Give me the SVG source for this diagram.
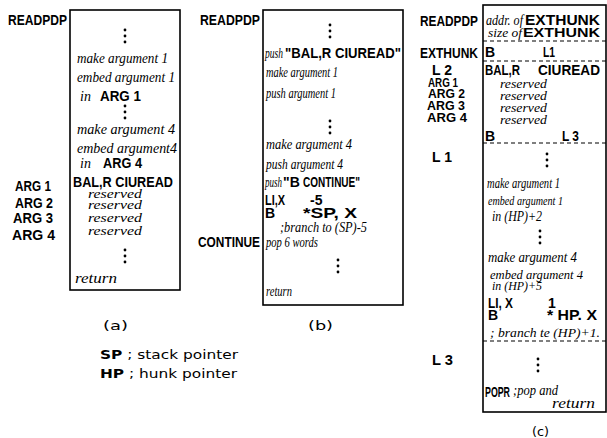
<svg xmlns="http://www.w3.org/2000/svg" width="607" height="438" viewBox="0 0 607 438">
<style>
.bx{fill:#fff;stroke:#000;stroke-width:1.6}
.ds{stroke:#000;stroke-width:1.2;stroke-dasharray:4 3;fill:none}
.b{font-family:"Liberation Sans",Arial,sans-serif;font-weight:bold;font-size:14px;fill:#000}
.bs{font-family:"Liberation Sans",Arial,sans-serif;font-weight:bold;font-size:13px;fill:#000}
.h{font-family:"Liberation Serif","Times New Roman",serif;font-style:italic;font-size:14px;fill:#000}
.hs{font-family:"Liberation Serif","Times New Roman",serif;font-style:italic;font-size:12px;fill:#000}
.n{font-family:"DejaVu Sans",sans-serif;font-size:13px;fill:#000}
</style>
<defs>
<g id="dots"><circle cx="0" cy="0" r="1.4"/><circle cx="0" cy="6" r="1.4"/><circle cx="0" cy="12" r="1.4"/></g>
</defs>

<g id="node-a">
<rect class="bx" x="70" y="10" width="110" height="280"/>
<text class="b" x="8" y="25" textLength="59" lengthAdjust="spacingAndGlyphs">READPDP</text>
<use href="#dots" x="125" y="30"/>
<text class="h" x="77" y="63" textLength="91" lengthAdjust="spacingAndGlyphs">make argument 1</text>
<text class="h" x="77" y="82" textLength="98" lengthAdjust="spacingAndGlyphs">embed argument 1</text>
<text class="h" x="80" y="101">in</text>
<text class="b" x="100" y="101" textLength="41" lengthAdjust="spacingAndGlyphs">ARG 1</text>
<use href="#dots" x="125" y="106"/>
<text class="h" x="77" y="134" textLength="98" lengthAdjust="spacingAndGlyphs">make argument 4</text>
<text class="h" x="77" y="153" textLength="100" lengthAdjust="spacingAndGlyphs">embed argument4</text>
<text class="h" x="80" y="168">in</text>
<text class="b" x="103" y="168" textLength="39" lengthAdjust="spacingAndGlyphs">ARG 4</text>
<text class="b" x="73" y="187" textLength="100" lengthAdjust="spacingAndGlyphs">BAL,R  CIUREAD</text>
<text class="hs" x="88" y="198" textLength="54" lengthAdjust="spacingAndGlyphs">reserved</text>
<text class="hs" x="88" y="209" textLength="54" lengthAdjust="spacingAndGlyphs">reserved</text>
<text class="hs" x="88" y="222" textLength="54" lengthAdjust="spacingAndGlyphs">reserved</text>
<text class="hs" x="88" y="235" textLength="54" lengthAdjust="spacingAndGlyphs">reserved</text>
<use href="#dots" x="125" y="250"/>
<text class="h" x="75" y="283" textLength="42" lengthAdjust="spacingAndGlyphs">return</text>
<text class="b" x="15" y="191" font-size="15" textLength="36" lengthAdjust="spacingAndGlyphs">ARG 1</text>
<text class="b" x="15" y="208" font-size="15" textLength="38" lengthAdjust="spacingAndGlyphs">ARG 2</text>
<text class="b" x="13" y="223" font-size="15" textLength="40" lengthAdjust="spacingAndGlyphs">ARG 3</text>
<text class="b" x="12" y="240" font-size="15" textLength="43" lengthAdjust="spacingAndGlyphs">ARG 4</text>
<text class="n" x="103" y="330" font-size="14" textLength="25" lengthAdjust="spacingAndGlyphs">(a)</text>
</g>

<g id="node-b">
<rect class="bx" x="263" y="10" width="140" height="295"/>
<text class="b" x="200" y="25" textLength="60" lengthAdjust="spacingAndGlyphs">READPDP</text>
<use href="#dots" x="330" y="25"/>
<text class="h" x="265" y="58" textLength="18" lengthAdjust="spacingAndGlyphs">push</text>
<text class="b" x="285" y="58" textLength="116" lengthAdjust="spacingAndGlyphs">"BAL,R CIUREAD"</text>
<text class="h" x="266" y="77" textLength="72" lengthAdjust="spacingAndGlyphs">make argument 1</text>
<text class="h" x="266" y="98" textLength="70" lengthAdjust="spacingAndGlyphs">push argument 1</text>
<use href="#dots" x="330" y="121"/>
<text class="h" x="266" y="149" textLength="86" lengthAdjust="spacingAndGlyphs">make argument 4</text>
<text class="h" x="266" y="169" textLength="77" lengthAdjust="spacingAndGlyphs">push argument 4</text>
<text class="h" x="265" y="187" textLength="17" lengthAdjust="spacingAndGlyphs">push</text>
<text class="b" x="283" y="187">"B</text>
<text class="b" x="303" y="187" textLength="57" lengthAdjust="spacingAndGlyphs">CONTINUE"</text>
<text class="b" x="265" y="205" textLength="20" lengthAdjust="spacingAndGlyphs">LI,X</text>
<text class="b" x="310" y="205">-5</text>
<text class="b" x="265" y="218">B</text>
<text class="b" x="303" y="218" textLength="54" lengthAdjust="spacingAndGlyphs">*SP, X</text>
<text class="h" x="280" y="232" textLength="87" lengthAdjust="spacingAndGlyphs">;branch to (SP)-5</text>
<text class="b" x="198" y="247" textLength="62" lengthAdjust="spacingAndGlyphs">CONTINUE</text>
<text class="h" x="266" y="247" textLength="52" lengthAdjust="spacingAndGlyphs">pop 6 words</text>
<use href="#dots" x="338" y="260"/>
<text class="h" x="266" y="296" textLength="26" lengthAdjust="spacingAndGlyphs">return</text>
<text class="n" x="308" y="330" font-size="14" textLength="25" lengthAdjust="spacingAndGlyphs">(b)</text>
</g>

<g id="node-c">
<rect class="bx" x="483" y="5" width="123" height="407"/>
<line class="ds" x1="483" y1="41" x2="607" y2="41"/>
<line class="ds" x1="483" y1="61" x2="607" y2="61"/>
<line class="ds" x1="483" y1="143" x2="607" y2="143"/>
<line class="ds" x1="483" y1="341" x2="607" y2="341"/>
<text class="b" x="420" y="26" textLength="58" lengthAdjust="spacingAndGlyphs">READPDP</text>
<text class="h" x="486" y="25" textLength="37" lengthAdjust="spacingAndGlyphs">addr. of</text>
<text class="b" x="525" y="25" textLength="75" lengthAdjust="spacingAndGlyphs">EXTHUNK</text>
<text class="hs" x="488" y="37" textLength="34" lengthAdjust="spacingAndGlyphs">size of</text>
<text class="bs" x="523" y="37" textLength="77" lengthAdjust="spacingAndGlyphs">EXTHUNK</text>
<text class="b" x="420" y="58" textLength="58" lengthAdjust="spacingAndGlyphs">EXTHUNK</text>
<text class="b" x="485" y="57">B</text>
<text class="b" x="543" y="57" textLength="12" lengthAdjust="spacingAndGlyphs">L1</text>
<text class="b" x="432" y="75" font-size="13">L 2</text>
<text class="b" x="485" y="75" textLength="35" lengthAdjust="spacingAndGlyphs">BAL,R</text>
<text class="b" x="538" y="75" textLength="62" lengthAdjust="spacingAndGlyphs">CIUREAD</text>
<text class="bs" x="428" y="87" font-size="12" textLength="30" lengthAdjust="spacingAndGlyphs">ARG 1</text>
<text class="bs" x="428" y="98" textLength="37" lengthAdjust="spacingAndGlyphs">ARG 2</text>
<text class="bs" x="427" y="110" textLength="38" lengthAdjust="spacingAndGlyphs">ARG 3</text>
<text class="bs" x="427" y="122" textLength="40" lengthAdjust="spacingAndGlyphs">ARG 4</text>
<text class="hs" x="500" y="88" textLength="47" lengthAdjust="spacingAndGlyphs">reserved</text>
<text class="hs" x="500" y="100" textLength="47" lengthAdjust="spacingAndGlyphs">reserved</text>
<text class="hs" x="500" y="112" textLength="47" lengthAdjust="spacingAndGlyphs">reserved</text>
<text class="hs" x="500" y="124" textLength="47" lengthAdjust="spacingAndGlyphs">reserved</text>
<text class="b" x="485" y="141">B</text>
<text class="b" x="562" y="141" textLength="17" lengthAdjust="spacingAndGlyphs">L 3</text>
<text class="b" x="432" y="162">L 1</text>
<use href="#dots" x="547" y="154"/>
<text class="h" x="487" y="188" textLength="73" lengthAdjust="spacingAndGlyphs">make argument 1</text>
<text class="hs" x="488" y="205" textLength="75" lengthAdjust="spacingAndGlyphs">embed argument 1</text>
<text class="h" x="492" y="221" textLength="50" lengthAdjust="spacingAndGlyphs">in (HP)+2</text>
<use href="#dots" x="540" y="231"/>
<text class="h" x="488" y="262" textLength="89" lengthAdjust="spacingAndGlyphs">make argument 4</text>
<text class="hs" x="490" y="279" textLength="93" lengthAdjust="spacingAndGlyphs">embed argument 4</text>
<text class="hs" x="492" y="290" textLength="50" lengthAdjust="spacingAndGlyphs">in (HP)+5</text>
<text class="b" x="488" y="308" textLength="25" lengthAdjust="spacingAndGlyphs">LI, X</text>
<text class="b" x="548" y="308">1</text>
<text class="b" x="488" y="320">B</text>
<text class="b" x="547" y="320" textLength="50" lengthAdjust="spacingAndGlyphs">* HP. X</text>
<text class="hs" x="490" y="337" textLength="110" lengthAdjust="spacingAndGlyphs">; branch te (HP)+1.</text>
<text class="b" x="432" y="365" textLength="21" lengthAdjust="spacingAndGlyphs">L 3</text>
<use href="#dots" x="538" y="359"/>
<text class="b" x="485" y="397" textLength="25" lengthAdjust="spacingAndGlyphs">POPR</text>
<text class="h" x="513" y="395" textLength="45" lengthAdjust="spacingAndGlyphs">;pop and</text>
<text class="h" x="552" y="408" textLength="43" lengthAdjust="spacingAndGlyphs">return</text>
<text class="n" x="532" y="436" font-size="14" textLength="17" lengthAdjust="spacingAndGlyphs">(c)</text>
</g>

<g id="legend">
<text class="n" x="100" y="359" textLength="138" lengthAdjust="spacingAndGlyphs"><tspan font-weight="bold">SP</tspan> ; stack pointer</text>
<text class="n" x="100" y="378" textLength="137" lengthAdjust="spacingAndGlyphs"><tspan font-weight="bold">HP</tspan> ; hunk pointer</text>
</g>
</svg>
